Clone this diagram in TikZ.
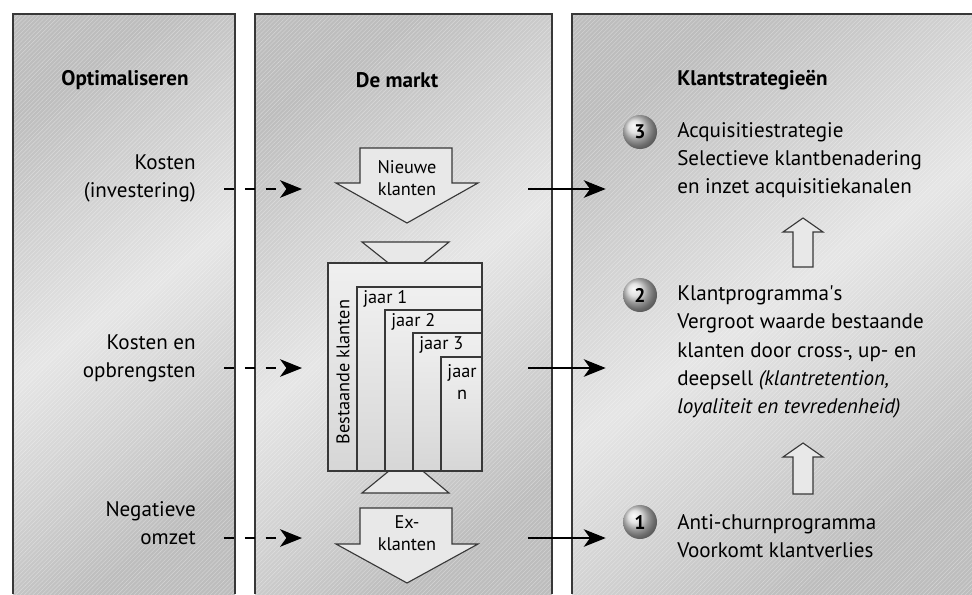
\documentclass[tikz,border=0pt]{standalone}
\usepackage{fontspec}
\setmainfont{PT Sans}
\usepackage{tikz}
\usetikzlibrary{positioning, arrows.meta, patterns}

\definecolor{paneldark}{gray}{0.74}
\definecolor{panellight}{gray}{0.90}
\definecolor{shapefill}{gray}{0.91}
\definecolor{linegray}{gray}{0.22}

\begin{document}
\begin{tikzpicture}[
  x=0.025cm, y=-0.025cm,
  panel/.style={top color=paneldark, bottom color=paneldark, middle color=panellight, shading angle=35},
  stripes/.style={pattern=north east lines, pattern color=white, opacity=0.3},
  border/.style={draw=linegray, line width=1.2pt},
  title/.style={font=\fontsize{15}{19}\selectfont\bfseries, inner sep=0},
  lbl/.style={font=\fontsize{15}{20}\selectfont, align=right, anchor=east, inner sep=0},
  txt/.style={font=\fontsize{15}{20}\selectfont, align=left, anchor=west, inner sep=0},
  small/.style={font=\fontsize{13}{15.5}\selectfont, align=center, inner sep=0},
  vak/.style={draw=linegray, line width=0.8pt, top color=gray!12, bottom color=gray!32},
  pijl/.style={draw=linegray, line width=0.8pt, fill=shapefill},
  ball/.style={circle, minimum size=0.85cm, inner sep=0, shading=ball, ball color=gray!30,
               font=\fontsize{14}{14}\selectfont\bfseries},
  arr/.style={-{Stealth[length=5.5mm, width=4.4mm, inset=1.6mm]}, line width=0.8pt},
  dasharr/.style={arr, dash pattern=on 0.25cm off 0.27cm}
]
  \useasboundingbox (0,0) rectangle (972,594);

  % Panels
  \shade[panel] (13,594) rectangle (235,14);
  \shade[panel] (255,594) rectangle (552,14);
  \shade[panel] (572,594) rectangle (972,14);
  \fill[stripes] (13,594) rectangle (235,14);
  \fill[stripes] (255,594) rectangle (552,14);
  \fill[stripes] (572,594) rectangle (972,14);
  \draw[border] (13,594) -- (13,14) -- (235,14) -- (235,594);
  \draw[border] (255,594) -- (255,14) -- (552,14) -- (552,594);
  \draw[border] (572,594) -- (572,14) -- (972,14);

  % Titles
  \node[title] (opt) at (125,80) {Optimaliseren};
  \node[title] (markt) at (397,80) {De markt};
  \node[title, anchor=west] (strat) at (677,80) {Klantstrategieën};

  % Left labels
  \node[lbl] (kost) at (196,178) {Kosten\\(investering)};
  \node[lbl] (kostop) at (196,358) {Kosten en\\opbrengsten};
  \node[lbl] (neg) at (196,523) {Negatieve\\omzet};

  % The market
  \draw[pijl] (360,148) -- (452,148) -- (452,183) -- (478,183) -- (407,223) -- (336,183) -- (360,183) -- cycle;
  \node[small] (nieuw) at (407,178) {Nieuwe\\klanten};
  \coordinate (nieuw-w) at (336,189);
  \coordinate (nieuw-e) at (478,189);

  \draw[pijl] (362,242) -- (449,242) -- (406,277) -- cycle;
  \draw[pijl] (362,493) -- (449,493) -- (406,457) -- cycle;
  \foreach \l/\t in {328/263, 357/287, 385/310, 413/333, 441/357}
    \draw[vak] (\l,\t) rectangle (482,471);
  \coordinate (vak-w) at (328,368);
  \coordinate (vak-e) at (482,368);

  \node[small, rotate=90] (best) at (343,372) {Bestaande klanten};
  \node[small, anchor=west] (j1) at (363,299) {jaar 1};
  \node[small, anchor=west] (j2) at (391,322) {jaar 2};
  \node[small, anchor=west] (j3) at (419,345) {jaar 3};
  \node[small] (jn) at (462,382) {jaar\\n};

  \draw[pijl] (360,508) -- (452,508) -- (452,544) -- (478,544) -- (407,583) -- (336,544) -- (360,544) -- cycle;
  \node[small] (ex) at (407,533) {Ex-\\klanten};
  \coordinate (ex-w) at (336,538);
  \coordinate (ex-e) at (478,538);

  % Strategies
  \node[ball] (b3) at (640,132) {3};
  \node[txt] (acq) at (677,160) {Acquisitiestrategie\\Selectieve klantbenadering\\en inzet acquisitiekanalen};
  \draw[pijl] (803,218) -- (823,232) -- (813,232) -- (813,267) -- (793,267) -- (793,232) -- (783,232) -- cycle;

  \node[ball] (b2) at (640,295) {2};
  \node[txt] (prog) at (677,352) {Klantprogramma\textquotesingle s\\Vergroot waarde bestaande\\klanten door cross-, up- en\\deepsell \textit{(klantretention,}\\\textit{loyaliteit en tevredenheid)}};
  \draw[pijl] (803,443) -- (823,457) -- (813,457) -- (813,494) -- (793,494) -- (793,457) -- (783,457) -- cycle;

  \node[ball] (b1) at (640,522) {1};
  \node[txt] (churn) at (677,536) {Anti-churnprogramma\\Voorkomt klantverlies};

  % Arrows
  \draw[dasharr, shorten <=0.7cm, shorten >=0.85cm] (kost.east |- nieuw-w) -- (nieuw-w);
  \draw[dasharr, shorten <=0.7cm, shorten >=0.65cm] (kostop.east |- vak-w) -- (vak-w);
  \draw[dasharr, shorten <=0.7cm, shorten >=0.85cm] (neg.east |- ex-w) -- (ex-w);
  \draw[arr, shorten <=1.25cm, shorten >=0.425cm] (nieuw-e) -- (nieuw-e -| b3.west);
  \draw[arr, shorten <=1.15cm, shorten >=0.425cm] (vak-e) -- (vak-e -| b2.west);
  \draw[arr, shorten <=1.25cm, shorten >=0.425cm] (ex-e) -- (ex-e -| b1.west);
\end{tikzpicture}
\end{document}
